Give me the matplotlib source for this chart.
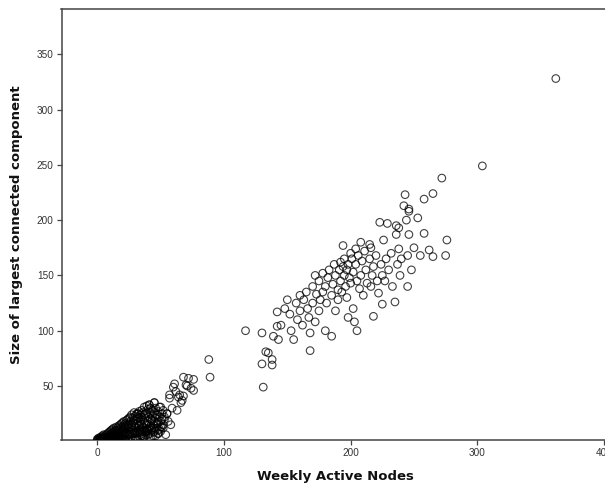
import matplotlib
matplotlib.use("Agg")
import matplotlib.pyplot as plt

# ---- data ----
# upper cluster and outliers
x_upper = [117,130,139,143,142,142,130,138,133,135,138,131,
           145,148,150,152,153,155,157,158,160,160,162,163,165,166,167,168,168,170,170,172,172,173,175,175,176,178,178,180,180,181,182,183,185,185,186,187,188,188,190,190,191,192,192,193,194,194,195,195,196,197,197,198,198,199,200,200,201,202,202,203,204,204,205,205,206,207,208,208,209,210,211,212,213,215,215,216,216,217,218,218,220,221,222,223,224,225,225,226,227,228,229,230,232,233,235,236,236,237,238,238,239,240,242,243,244,245,245,246,246,246,248,250,253,255,258,265,272,276,304,362,
           262,265,275,258]
y_upper = [100,98,95,92,117,104,70,69,81,80,74,49,
           105,120,128,115,100,92,125,110,132,118,105,128,135,120,112,82,98,140,125,150,108,133,145,118,128,135,152,140,100,125,148,155,132,95,142,160,150,118,137,128,155,162,145,135,158,177,150,165,140,155,130,160,112,148,170,143,165,120,153,108,174,160,145,100,168,138,180,150,163,132,172,155,143,178,165,175,140,150,113,158,168,145,134,198,160,124,150,182,145,165,197,155,170,140,126,187,195,160,193,174,150,165,213,223,200,168,140,187,210,208,155,175,202,168,219,224,238,182,249,328,
           173,167,168,188]

# middle transition region
x_mid = [88,89,68,72,76,70,76,61,60,57,64,67,63,65,57,68,45,41,50,32,55,56,54,48,51,47,43,39,
         62,66,71,59,74,53,58]
y_mid = [74,58,58,57,56,51,46,52,49,39,40,37,28,42,42,41,35,33,31,25,25,18,6,7,13,16,19,10,
         45,35,50,30,48,22,15]

# dense cluster near origin
x_low = [0,0,1,1,1,2,2,2,3,3,3,4,4,4,5,5,5,6,6,6,7,7,7,8,8,8,9,9,9,10,10,10,
         11,11,11,12,12,12,13,13,13,14,14,14,15,15,15,16,16,16,17,17,17,18,18,18,
         19,19,19,20,20,20,21,21,21,22,22,22,23,23,23,24,24,24,25,25,25,26,26,26,
         27,27,27,28,28,28,29,29,29,30,30,30,31,31,31,32,32,32,33,33,33,34,34,34,
         35,35,35,36,36,36,37,37,37,38,38,38,39,39,39,40,40,40,41,41,42,42,42,43,43,
         44,44,44,45,45,46,46,46,47,47,48,48,49,49,50,50,51,52,53,55,
         2,4,6,8,10,12,14,16,18,20,22,24,26,28,30,32,34,36,38,40,
         3,5,7,9,11,13,15,17,19,21,23,25,27,29,31,33,35,37,39,41,43,45,
         12,15,18,20,22,25,27,30,32,35,37,40,42,44,46,48,50,52,
         14,17,21,24,28,31,34,38,41,45,49,
         30,33,36,39,42,45,48,51,34,38,43,47,52,36,44]
y_low = [1,2,1,2,3,1,2,3,1,2,4,2,3,5,2,4,6,3,5,2,4,6,3,4,7,2,5,8,3,6,9,4,
         7,10,3,8,5,11,9,6,12,8,4,10,10,7,13,9,12,5,10,14,6,11,8,15,
         13,9,16,12,7,17,14,10,18,13,8,16,15,11,19,14,6,20,16,12,21,18,9,22,
         15,13,24,17,10,21,19,14,26,16,8,23,20,12,25,25,17,22,14,21,27,18,10,24,
         22,15,28,19,12,26,24,17,31,21,9,25,26,15,32,22,18,29,33,12,25,20,30,19,28,
         23,15,27,35,26,21,30,24,16,24,7,27,31,22,13,18,25,28,20,25,
         0,1,1,2,2,3,3,4,4,5,5,6,6,7,7,8,8,9,9,10,
         2,2,3,3,4,4,5,5,6,6,7,7,8,8,9,9,10,10,11,11,12,12,
         1,2,1,3,2,2,4,3,2,5,4,6,3,8,5,10,9,12,
         0,1,1,2,1,3,4,6,7,9,11,
         12,15,13,16,14,18,17,20,6,8,10,12,15,4,5]

xs = x_upper + x_mid + x_low
ys = y_upper + y_mid + y_low

x_ticks = [0, 100, 200, 300, 400]
y_ticks = [50, 100, 150, 200, 250, 300, 350]

fig = plt.figure(figsize=(6.05, 4.86), dpi=100)
ax = fig.add_axes([61.5/605, 46/486, (609-61.5)/605, (440-9.3)/486])

ax.scatter(xs, ys, s=30, facecolors='none', edgecolors='black',
           linewidths=0.8, alpha=0.75, zorder=3, clip_on=True)

ax.set_xlim(-28.3, 404)
ax.set_ylim(1.2, 390.6)
ax.set_xticks(x_ticks)
ax.set_xticklabels([str(v) for v in x_ticks])
ax.set_yticks(y_ticks)
ax.set_yticklabels([str(v) for v in y_ticks])

for s in ['top', 'bottom', 'left', 'right']:
    ax.spines[s].set_color('#444444')
    ax.spines[s].set_linewidth(1.1)

ax.tick_params(axis='both', direction='out', length=3.6, width=0.9,
               color='#444444', labelcolor='#333333', labelsize=7.2, pad=2)
for lab in ax.get_xticklabels() + ax.get_yticklabels():
    lab.set_fontfamily('Liberation Sans')

ax.set_xlabel('Weekly Active Nodes', fontsize=9.5, fontweight='bold',
              fontfamily='DejaVu Sans', color='#111111', labelpad=9)
ax.set_ylabel('Size of largest connected component', fontsize=9.5,
              fontweight='bold', fontfamily='DejaVu Sans', color='#111111',
              labelpad=10)

fig.savefig('out.png', dpi=100)
